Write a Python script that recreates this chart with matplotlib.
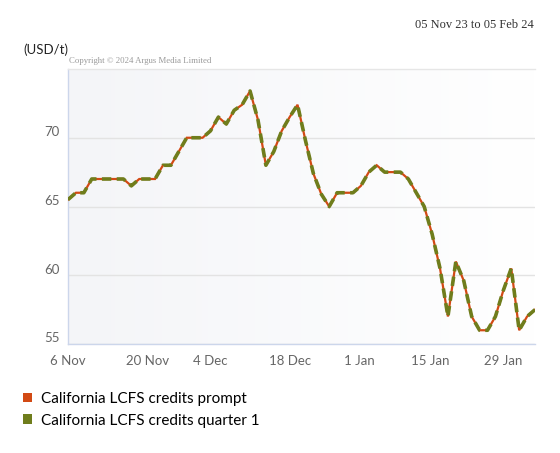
import numpy as np
import pandas as pd
import matplotlib
matplotlib.use("Agg")
import matplotlib.pyplot as plt
import matplotlib.transforms as mtransforms
from matplotlib.patches import Patch
from matplotlib.colors import LinearSegmentedColormap

# ---- data ----
holidays = ["2023-11-23", "2023-11-24", "2023-12-25", "2024-01-01", "2024-01-15"]
dates = pd.bdate_range("2023-11-06", "2024-02-02")
dates = dates[~dates.isin(pd.to_datetime(holidays))]

prompt = [65.5, 66, 66, 67, 67, 67, 67, 67, 66.5, 67,
          67, 67, 68, 68, 69, 70, 70, 70, 70.5, 71.5,
          71, 72, 72.4, 73.4, 71.3, 68, 69, 70.5, 71.5, 72.4,
          69.8, 67.4, 65.9, 65, 66, 66, 66, 66.5, 67.5, 68,
          67.5, 67.5, 67.5, 67, 66, 65, 63, 60.5, 57, 61,
          59.6, 57, 56, 56, 57, 58.9, 60.5, 56, 57, 57.5]
quarter1 = [65.5, 66, 66, 67, 67, 67, 67, 67, 66.5, 67,
            67, 67, 68, 68, 69, 70, 70, 70, 70.5, 71.5,
            71, 72, 72.4, 73.4, 71.3, 68, 69, 70.5, 71.5, 72.4,
            69.8, 67.4, 65.9, 65, 66, 66, 66, 66.5, 67.5, 68,
            67.5, 67.5, 67.5, 67, 66, 65, 63, 60.5, 57, 61,
            59.6, 57, 56, 56, 57, 58.9, 60.5, 56, 57, 57.5]

series_names = ["California LCFS credits prompt", "California LCFS credits quarter 1"]
tick_dates = pd.to_datetime(["2023-11-06", "2023-11-20", "2023-12-04", "2023-12-18",
                             "2024-01-01", "2024-01-15", "2024-01-29"])
tick_labels = ["6 Nov", "20 Nov", "4 Dec", "18 Dec", "1 Jan", "15 Jan", "29 Jan"]
y_ticks = [55, 60, 65, 70]

ORANGE = "#D24A14"
GREEN = "#6F7D1C"

# ---- figure ----
fig = plt.figure(figsize=(5.6, 4.53), dpi=100)
W, H = 560, 453
ax = fig.add_axes([68 / W, (H - 344) / H, 467 / W, 275 / H])

# background gradient
cmap = LinearSegmentedColormap.from_list("bg", ["#f4f5f8", "#ffffff"])
grad = np.linspace(0, 1, 256).reshape(1, -1)
ax.imshow(grad, extent=[0, 1, 0, 1], transform=ax.transAxes, aspect="auto",
          cmap=cmap, zorder=0)

x = np.arange(len(dates))
ax.plot(x, prompt, color=ORANGE, lw=1.6, zorder=3, solid_joinstyle="miter")
ax.plot(x, quarter1, color=GREEN, lw=2.6, dashes=(2.6, 1.5), zorder=4)

ax.set_xlim(0, len(dates) - 1)
ax.set_ylim(55, 75)

# ordinal tick positions
date_nums = dates.values.astype("datetime64[D]").astype(float)
tick_nums = tick_dates.values.astype("datetime64[D]").astype(float)
tick_pos = np.interp(tick_nums, date_nums, x)
ax.set_xticks(tick_pos)
ax.set_xticklabels(tick_labels)
ax.set_yticks(y_ticks)
ax.set_yticklabels([str(v) for v in y_ticks])

ax.grid(axis="y", color="#e3e3e3", lw=1, zorder=1)
ax.set_axisbelow(True)
ax.spines["right"].set_visible(False)
ax.spines["top"].set_color("#e6e6e6")
ax.spines["left"].set_color("#ccd6eb")
ax.spines["bottom"].set_color("#ccd6eb")
for s in ["top", "left", "bottom"]:
    ax.spines[s].set_linewidth(1)

ax.tick_params(axis="both", length=0, colors="#666666", labelsize=9.5)
ax.tick_params(axis="x", pad=8)
ax.tick_params(axis="y", pad=6)
for lab in ax.get_xticklabels() + ax.get_yticklabels():
    lab.set_fontfamily("Lato")
off = mtransforms.ScaledTranslation(0, 0.065, fig.dpi_scale_trans)
for lab in ax.get_yticklabels():
    lab.set_transform(lab.get_transform() + off)

# texts
fig.text(23 / W, 1 - 50 / H, "(USD/t)", fontsize=9.5, family="Lato",
         color="#222222", va="center", ha="left")
fig.text(534 / W, 1 - 25 / H, "05 Nov 23 to 05 Feb 24", fontsize=9,
         family="Liberation Serif", color="#333333", va="center", ha="right")
fig.text(69 / W, 1 - 61 / H, "Copyright \u00a9 2024 Argus Media Limited", fontsize=6.3,
         family="Liberation Serif", color="#999999", va="center", ha="left")

handles = [Patch(facecolor=ORANGE, edgecolor="none"),
           Patch(facecolor=GREEN, edgecolor="none")]
fig.legend(handles, series_names, loc="upper left",
           bbox_to_anchor=(23 / W, 1 - 392 / H), frameon=False,
           borderpad=0, borderaxespad=0,
           handlelength=0.6, handleheight=0.6, handletextpad=0.55,
           labelspacing=0.5, prop={"family": "Lato", "size": 11})

fig.savefig("out.png", dpi=100)
